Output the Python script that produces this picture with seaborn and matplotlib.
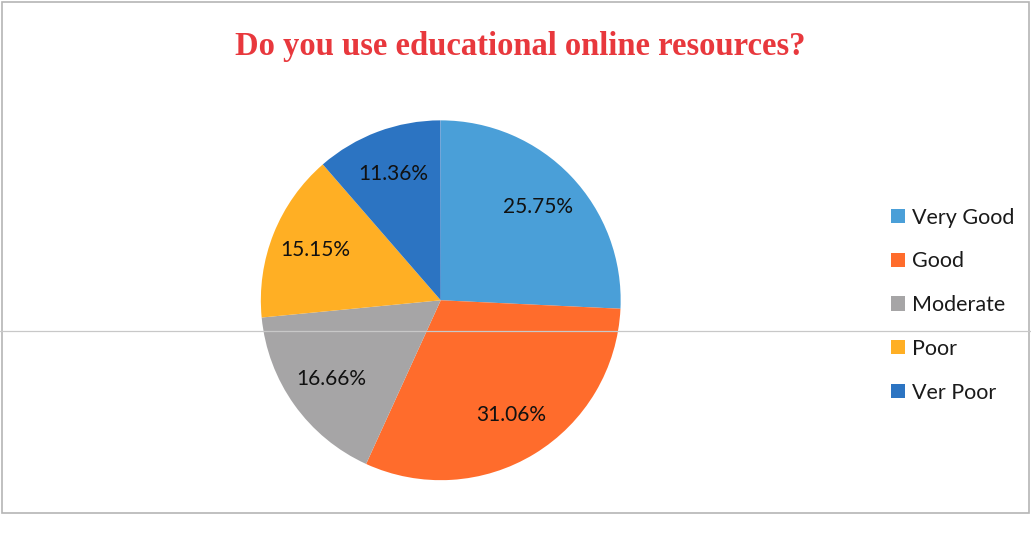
import matplotlib
matplotlib.use("Agg")
import matplotlib.pyplot as plt
import seaborn as sns
from matplotlib.patches import Rectangle
from matplotlib.lines import Line2D

# Datos del grafico
categorias = ["Very Good", "Good", "Moderate", "Poor", "Ver Poor"]
porcentajes = [25.75, 31.06, 16.66, 15.15, 11.36]
colores = ["#4A9FD8", "#FF6C2C", "#A6A5A6", "#FFAF24", "#2C74C2"]
titulo = "Do you use educational online resources?"

sns.set_style("white")
plt.rcParams["font.family"] = ["Lato", "DejaVu Sans"]

fig = plt.figure(figsize=(10.31, 5.42), dpi=100)
ax = fig.add_axes([0.253, 0.114, 0.349, 0.664])

# los porcentajes ya vienen en %, sin normalizar para que las etiquetas coincidan
wedges, textos, autotextos = ax.pie(
    [p / 100 for p in porcentajes],
    normalize=False,
    colors=colores,
    startangle=90,
    counterclock=False,
    autopct=lambda p: f"{p:.2f}%",
    pctdistance=0.75,
    wedgeprops={"linewidth": 0},
    textprops={"fontsize": 15, "color": "#111111"},
)
ax.set_xlim(-1, 1)
ax.set_ylim(-1, 1)
ax.set_aspect("equal")

# Titulo
fig.text(0.505, 0.915, titulo, ha="center", va="center", color="#E8383D",
         fontsize=23.5, fontweight="bold", family=["Liberation Serif", "DejaVu Serif"])

# Leyenda
fig.legend(wedges, categorias, loc="center left", bbox_to_anchor=(0.845, 0.437),
           frameon=False, fontsize=15.5, handlelength=0.65, handleheight=0.65,
           handletextpad=0.35, labelspacing=1.1, labelcolor="#1a1a1a")

# Marco y linea del escaneo
fig.add_artist(Rectangle((0.002, 0.053), 0.996, 0.943, transform=fig.transFigure,
                         fill=False, edgecolor="#B5B5B5", linewidth=1.2))
fig.add_artist(Line2D([0, 1], [0.39, 0.39], transform=fig.transFigure,
                      color="#C8C8C8", linewidth=0.9))

fig.savefig("out.png", dpi=100)
